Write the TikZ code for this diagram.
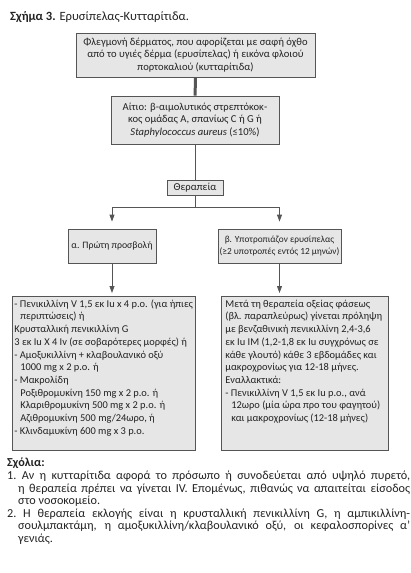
\documentclass[tikz,border=0pt]{standalone}
\usepackage{fontspec}
\setmainfont{Carlito}
\usetikzlibrary{arrows.meta}
\definecolor{boxfill}{HTML}{E6E6E6}
\definecolor{linec}{HTML}{555555}
\definecolor{txt}{HTML}{222222}
\newcommand{\ind}{\hspace*{6pt}}
\begin{document}
\begin{tikzpicture}[x=1pt,y=-1pt,
  box/.style={draw=linec, fill=boxfill, line width=0.8pt, text=txt,
    font=\fontsize{10.6}{12.5}\selectfont, align=center, inner sep=0pt},
  bigbox/.style={draw=linec, fill=boxfill, line width=0.8pt, text=txt,
    font=\fontsize{10.4}{12.7}\selectfont, anchor=north west, inner ysep=2pt},
  conn/.style={draw=linec, line width=0.8pt},
  thickconn/.style={draw=linec, line width=3pt},
  arr/.style={conn, -{Triangle[length=7pt,width=5pt]}}]
\useasboundingbox (0,0) rectangle (411,573);
\node[anchor=base west, font=\fontsize{12.6}{14}\selectfont, text=txt, inner sep=0pt] (title) at (10,20)
  {\textbf{Σχήμα 3.} Ερυσίπελας-Κυτταρίτιδα.};
\node[box, minimum width=239pt, minimum height=44pt] (b1) at (195.5,55)
  {Φλεγμονή δέρματος, που αφορίζεται με σαφή όχθο\\από το υγιές δέρμα (ερυσίπελας) ή εικόνα φλοιού\\πορτοκαλιού (κυτταρίτιδα)};
\node[box, minimum width=168pt, minimum height=48pt] (b2) at (195,120)
  {Αίτιο: β-αιμολυτικός στρεπτόκοκ-\\κος ομάδας Α, σπανίως C ή G ή\\\textit{Staphylococcus aureus} (≤10\%)};
\node[box, minimum width=56pt, minimum height=15pt] (ther) at (195,188) {Θεραπεία};
\node[box, font=\fontsize{9.8}{12.5}\selectfont, minimum width=88pt, minimum height=34pt] (alpha) at (112,246) {α. Πρώτη προσβολή};
\node[box, font=\fontsize{9.3}{12.5}\selectfont, minimum width=123pt, minimum height=34pt] (beta) at (279.5,246)
  {β. Υποτροπιάζον ερυσίπελας\\(≥2 υποτροπές εντός 12 μηνών)};
\node[bigbox, inner xsep=2pt] (left) at (12,296)
  {\parbox[t][150pt][t]{179pt}{\setlength\parindent{0pt}%
  \begin{tabular}[t]{@{}l@{}}
  - Πενικιλλίνη V 1,5 εκ Iu x 4 p.o. (για ήπιες\\
  \ind περιπτώσεις) ή\\
  Κρυσταλλική πενικιλλίνη G\\
  3 εκ Iu X 4 Iv (σε σοβαρότερες μορφές) ή\\
  - Αμοξυκιλλίνη + κλαβουλανικό οξύ\\
  \ind 1000 mg x 2 p.o. ή\\
  - Μακρολίδη\\
  \ind Ροξιθρομυκίνη 150 mg x 2 p.o. ή\\
  \ind Κλαριθρομυκίνη 500 mg x 2 p.o. ή\\
  \ind Αζιθρομυκίνη 500 mg/24ωρο, ή\\
  - Κλινδαμυκίνη 600 mg x 3 p.o.
  \end{tabular}}};
\node[bigbox, inner xsep=4pt] (right) at (221,296)
  {\parbox[t][150pt][t]{159pt}{\setlength\parindent{0pt}%
  \begin{tabular}[t]{@{}l@{}}
  Μετά τη θεραπεία οξείας φάσεως\\
  (βλ. παραπλεύρως) γίνεται πρόληψη\\
  με βενζαθινική πενικιλλίνη 2,4-3,6\\
  εκ Iu IM (1,2-1,8 εκ Iu συγχρόνως σε\\
  κάθε γλουτό) κάθε 3 εβδομάδες και\\
  μακροχρονίως για 12-18 μήνες.\\
  Εναλλακτικά:\\
  - Πενικιλλίνη V 1,5 εκ Iu p.o., ανά\\
  \ind 12ωρο (μία ώρα προ του φαγητού)\\
  \ind και μακροχρονίως (12-18 μήνες)
  \end{tabular}}};
\coordinate (j) at (195,207);
\draw[thickconn] (b1) -- (b2);
\draw[conn] (b2) -- (ther);
\draw[conn] (ther) -- (j);
\draw[arr, shorten >=7pt] (j) -| (alpha.north);
\draw[arr, shorten >=7pt] (j) -| (beta.north);
\draw[arr, shorten >=3pt] (alpha) -- (alpha |- left.north);
\draw[arr, shorten >=3pt] (beta) -- (beta |- right.north);
\node[anchor=north west, inner sep=0pt, text=txt, font=\fontsize{12.2}{12.6}\selectfont] (notes) at (7,458)
  {\parbox{403pt}{\setlength\parindent{0pt}%
  \textbf{Σχόλια:}\par
  \hangindent=11pt\hangafter=1
  1.~Αν η κυτταρίτιδα αφορά το πρόσωπο ή συνοδεύεται από υψηλό πυρετό,\linebreak
  η θεραπεία πρέπει να γίνεται IV. Επομένως, πιθανώς να απαιτείται είσοδος\linebreak
  στο νοσοκομείο.\par
  \hangindent=11pt\hangafter=1
  2.~Η θεραπεία εκλογής είναι η κρυσταλλική πενικιλλίνη G, η αμπικιλλίνη-\linebreak
  σουλμπακτάμη, η αμοξυκιλλίνη/κλαβουλανικό οξύ, οι κεφαλοσπορίνες α’\linebreak
  γενιάς.}};
\end{tikzpicture}
\end{document}
